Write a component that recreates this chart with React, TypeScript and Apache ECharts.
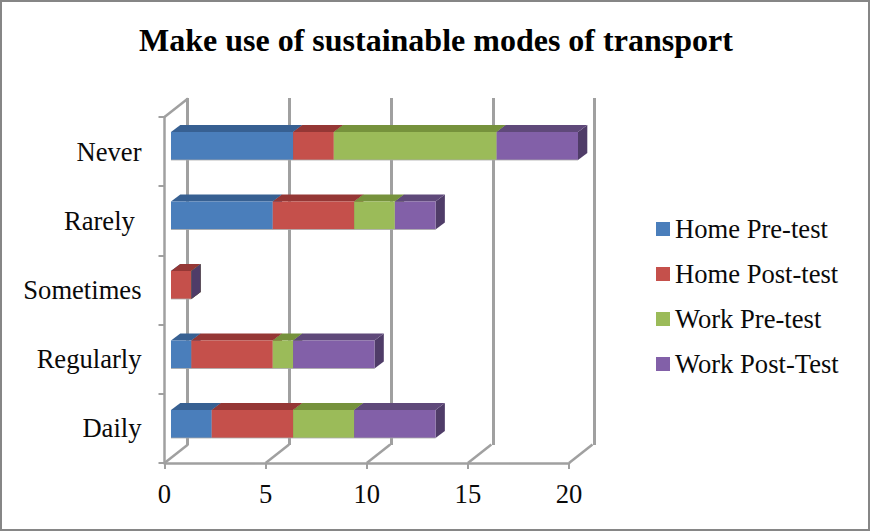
import React, { useEffect, useRef } from "react";
import * as echarts from "echarts";

const categories = ["Daily", "Regularly", "Sometimes", "Rarely ", "Never"];
const homePre = [2, 1, 0, 5, 6];
const homePost = [4, 4, 1, 4, 2];
const workPre = [3, 1, 0, 2, 8];
const workPost = [4, 4, 0, 2, 4];
const seriesNames = ["Home Pre-test", "Home Post-test", "Work Pre-test", "Work Post-Test"];
const valueTicks = [0, 5, 10, 15, 20];
const titleText = "Make use of sustainable modes of transport";

const FRONT = ["#4a7ebb", "#c5504b", "#9bbb59", "#8260a8"];
const TOP = ["#376092", "#953735", "#76923c", "#5f497a"];
const SIDE = ["#2f5380", "#7d2e2c", "#637b33", "#4f3c68"];
const FONT = "'Liberation Serif', 'Times New Roman', serif";
const GRID_COLOR = "#a0a0a0";
const LABEL_SIZE = 26.6;
const DX = 9.3;
const DY = 7;
const WALL_DX = 23.5;
const WALL_DY = 18.5;

export default function App() {
  const ref = useRef<HTMLDivElement>(null);
  useEffect(() => {
    const chart = echarts.init(ref.current!, undefined, { renderer: "svg" });
    const values = [homePre, homePost, workPre, workPost];
    const barSeries = values.map((arr, s) => ({
      type: "custom",
      name: seriesNames[s],
      xAxisIndex: 1,
      yAxisIndex: 1,
      clip: false,
      silent: true,
      itemStyle: { color: FRONT[s] },
      encode: { x: [0, 1], y: 2 },
      data: arr.map((v, i) => {
        let start = 0;
        for (let k = 0; k < s; k++) start += values[k][i];
        return [start, start + v, i];
      }),
      renderItem: (_p: any, api: any) => {
        const a = api.coord([api.value(0), api.value(2)]);
        const b = api.coord([api.value(1), api.value(2)]);
        const h = api.size([0, 1])[1] * 0.403;
        const top = a[1] - h / 2;
        const bot = a[1] + h / 2;
        const x0 = a[0];
        const x1 = b[0];
        const edge = "rgba(170,170,170,0.8)";
        return {
          type: "group",
          children: [
            {
              type: "polygon",
              shape: { points: [[x1, top], [x1 + DX, top - DY], [x1 + DX, bot - DY], [x1, bot]] },
              style: { fill: SIDE[s] },
            },
            {
              type: "polygon",
              shape: { points: [[x0, top], [x0 + DX, top - DY], [x1 + DX, top - DY], [x1, top]] },
              style: { fill: TOP[s] },
            },
            {
              type: "rect",
              shape: { x: x0, y: top, width: x1 - x0, height: bot - top },
              style: { fill: FRONT[s] },
            },
            {
              type: "line",
              shape: { x1: x0, y1: bot, x2: x1, y2: bot },
              style: { stroke: edge, lineWidth: 1 },
            },
          ],
        };
      },
    }));
    chart.setOption({
      animation: false,
      backgroundColor: "#ffffff",
      color: FRONT,
      title: {
        text: titleText,
        left: 139,
        top: 24,
        padding: 0,
        textStyle: { fontFamily: FONT, fontSize: 32, fontWeight: "bold", color: "#000" },
      },
      legend: {
        orient: "vertical",
        left: 656,
        top: 214,
        padding: 0,
        icon: "rect",
        itemWidth: 14,
        itemHeight: 14,
        itemGap: 15,
        selectedMode: false,
        data: seriesNames,
        textStyle: { fontFamily: FONT, fontSize: LABEL_SIZE, color: "#0a0a0a", lineHeight: 30 },
      },
      graphic: [
        {
          type: "rect",
          silent: true,
          z: -1,
          shape: { x: 1, y: 1, width: 868, height: 529 },
          style: { fill: "none", stroke: "#868686", lineWidth: 2 },
        },
      ],
      grid: [
        { left: 164.5, top: 117, width: 404.5, height: 346 },
        { left: 171, top: 111.25, width: 407, height: 347.5 },
        { left: 187.5, top: 98, width: 407, height: 347 },
      ],
      xAxis: [
        {
          gridIndex: 0,
          type: "value",
          min: 0,
          max: 20,
          interval: 5,
          splitLine: { show: false },
          axisLine: { show: true, lineStyle: { color: GRID_COLOR, width: 2.5 } },
          axisTick: { show: true, length: 6, lineStyle: { color: GRID_COLOR, width: 2 } },
          axisLabel: { margin: 17, fontFamily: FONT, fontSize: LABEL_SIZE, color: "#0a0a0a" },
        },
        { gridIndex: 1, type: "value", min: 0, max: 20, show: false },
        {
          gridIndex: 2,
          type: "value",
          min: 0,
          max: 20,
          interval: 5,
          axisLine: { show: false },
          axisTick: { show: false },
          axisLabel: { show: false },
          splitLine: { show: true, lineStyle: { color: GRID_COLOR, width: 3 } },
        },
      ],
      yAxis: [
        {
          gridIndex: 0,
          type: "category",
          data: categories,
          axisLine: { show: true, lineStyle: { color: GRID_COLOR, width: 2.5 } },
          axisTick: { show: true, length: 6, alignWithLabel: false, lineStyle: { color: GRID_COLOR, width: 2 } },
          axisLabel: { margin: 23, fontFamily: FONT, fontSize: LABEL_SIZE, color: "#0a0a0a" },
        },
        { gridIndex: 1, type: "category", data: categories, show: false },
        { gridIndex: 2, type: "category", data: categories, show: false },
      ],
      series: [
        {
          type: "custom",
          name: "floor",
          xAxisIndex: 0,
          yAxisIndex: 0,
          clip: false,
          silent: true,
          encode: { x: 0 },
          data: valueTicks.map((t) => [t]),
          renderItem: (p: any, api: any) => {
            const c = p.coordSys;
            const pt = api.coord([api.value(0), 0]);
            const lines: any[] = [
              {
                type: "line",
                shape: { x1: pt[0], y1: c.y + c.height, x2: pt[0] + WALL_DX, y2: c.y + c.height - WALL_DY },
                style: { stroke: GRID_COLOR, lineWidth: 2.5 },
              },
            ];
            if (p.dataIndex === 0) {
              lines.push({
                type: "line",
                shape: { x1: c.x, y1: c.y, x2: c.x + WALL_DX, y2: c.y - WALL_DY },
                style: { stroke: GRID_COLOR, lineWidth: 2.5 },
              });
            }
            return { type: "group", children: lines };
          },
        },
        ...barSeries,
      ],
    } as any);
    return () => chart.dispose();
  }, []);
  return (
    <div
      ref={ref}
      style={{ position: "absolute", left: 0, top: 0, width: 870, height: 531 }}
    />
  );
}
